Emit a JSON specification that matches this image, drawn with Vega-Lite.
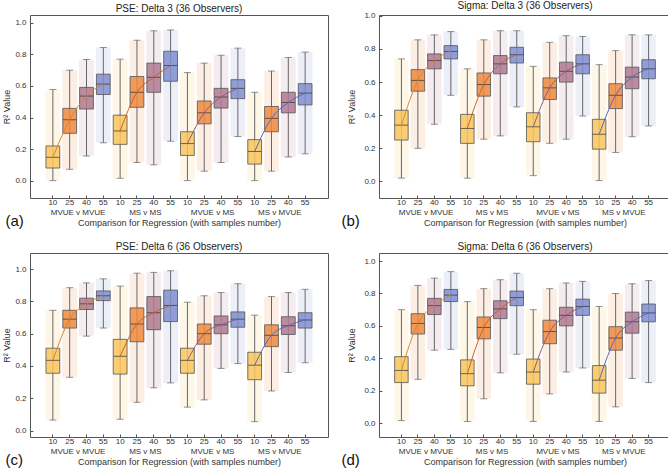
{
  "$schema": "https://vega.github.io/schema/vega-lite/v6.json",
  "padding": {"left": 2, "top": 0, "right": 0, "bottom": 0},
  "datasets": {
    "boxes": [
      {"panel":"a","group":"MVUE v MVUE","n":"10","slot":"MVUE v MVUE|10","lo":0.0,"q1":0.08,"median":0.148,"q3":0.22,"hi":0.578},
      {"panel":"a","group":"MVUE v MVUE","n":"25","slot":"MVUE v MVUE|25","lo":0.072,"q1":0.30,"median":0.386,"q3":0.458,"hi":0.70},
      {"panel":"a","group":"MVUE v MVUE","n":"40","slot":"MVUE v MVUE|40","lo":0.156,"q1":0.454,"median":0.536,"q3":0.591,"hi":0.768},
      {"panel":"a","group":"MVUE v MVUE","n":"55","slot":"MVUE v MVUE|55","lo":0.24,"q1":0.546,"median":0.612,"q3":0.675,"hi":0.844},
      {"panel":"a","group":"MS v MS","n":"10","slot":"MS v MS|10","lo":0.015,"q1":0.23,"median":0.315,"q3":0.415,"hi":0.77},
      {"panel":"a","group":"MS v MS","n":"25","slot":"MS v MS|25","lo":0.115,"q1":0.465,"median":0.56,"q3":0.66,"hi":0.89},
      {"panel":"a","group":"MS v MS","n":"40","slot":"MS v MS|40","lo":0.10,"q1":0.56,"median":0.655,"q3":0.745,"hi":0.95},
      {"panel":"a","group":"MS v MS","n":"55","slot":"MS v MS|55","lo":0.25,"q1":0.63,"median":0.73,"q3":0.82,"hi":0.955},
      {"panel":"a","group":"MVUE v MS","n":"10","slot":"MVUE v MS|10","lo":0.0,"q1":0.16,"median":0.235,"q3":0.31,"hi":0.685},
      {"panel":"a","group":"MVUE v MS","n":"25","slot":"MVUE v MS|25","lo":0.06,"q1":0.36,"median":0.43,"q3":0.505,"hi":0.745},
      {"panel":"a","group":"MVUE v MS","n":"40","slot":"MVUE v MS|40","lo":0.115,"q1":0.46,"median":0.53,"q3":0.585,"hi":0.795},
      {"panel":"a","group":"MVUE v MS","n":"55","slot":"MVUE v MS|55","lo":0.28,"q1":0.52,"median":0.585,"q3":0.64,"hi":0.84},
      {"panel":"a","group":"MS v MVUE","n":"10","slot":"MS v MVUE|10","lo":0.0,"q1":0.105,"median":0.185,"q3":0.26,"hi":0.56},
      {"panel":"a","group":"MS v MVUE","n":"25","slot":"MS v MVUE|25","lo":0.06,"q1":0.31,"median":0.395,"q3":0.47,"hi":0.695},
      {"panel":"a","group":"MS v MVUE","n":"40","slot":"MS v MVUE|40","lo":0.15,"q1":0.43,"median":0.495,"q3":0.56,"hi":0.78},
      {"panel":"a","group":"MS v MVUE","n":"55","slot":"MS v MVUE|55","lo":0.17,"q1":0.48,"median":0.555,"q3":0.615,"hi":0.815},

      {"panel":"b","group":"MVUE v MVUE","n":"10","slot":"MVUE v MVUE|10","lo":0.02,"q1":0.25,"median":0.34,"q3":0.43,"hi":0.74},
      {"panel":"b","group":"MVUE v MVUE","n":"25","slot":"MVUE v MVUE|25","lo":0.20,"q1":0.545,"median":0.61,"q3":0.675,"hi":0.855},
      {"panel":"b","group":"MVUE v MVUE","n":"40","slot":"MVUE v MVUE|40","lo":0.345,"q1":0.68,"median":0.73,"q3":0.77,"hi":0.885},
      {"panel":"b","group":"MVUE v MVUE","n":"55","slot":"MVUE v MVUE|55","lo":0.52,"q1":0.74,"median":0.785,"q3":0.82,"hi":0.905},
      {"panel":"b","group":"MS v MS","n":"10","slot":"MS v MS|10","lo":0.02,"q1":0.23,"median":0.32,"q3":0.405,"hi":0.68},
      {"panel":"b","group":"MS v MS","n":"25","slot":"MS v MS|25","lo":0.255,"q1":0.515,"median":0.585,"q3":0.655,"hi":0.855},
      {"panel":"b","group":"MS v MS","n":"40","slot":"MS v MS|40","lo":0.275,"q1":0.65,"median":0.71,"q3":0.76,"hi":0.91},
      {"panel":"b","group":"MS v MS","n":"55","slot":"MS v MS|55","lo":0.45,"q1":0.715,"median":0.765,"q3":0.81,"hi":0.91},
      {"panel":"b","group":"MVUE v MS","n":"10","slot":"MVUE v MS|10","lo":0.035,"q1":0.24,"median":0.33,"q3":0.415,"hi":0.695},
      {"panel":"b","group":"MVUE v MS","n":"25","slot":"MVUE v MS|25","lo":0.23,"q1":0.495,"median":0.565,"q3":0.625,"hi":0.84},
      {"panel":"b","group":"MVUE v MS","n":"40","slot":"MVUE v MS|40","lo":0.255,"q1":0.60,"median":0.665,"q3":0.72,"hi":0.88},
      {"panel":"b","group":"MVUE v MS","n":"55","slot":"MVUE v MS|55","lo":0.395,"q1":0.65,"median":0.71,"q3":0.765,"hi":0.875},
      {"panel":"b","group":"MS v MVUE","n":"10","slot":"MS v MVUE|10","lo":0.005,"q1":0.195,"median":0.285,"q3":0.375,"hi":0.705},
      {"panel":"b","group":"MS v MVUE","n":"25","slot":"MS v MVUE|25","lo":0.175,"q1":0.44,"median":0.52,"q3":0.59,"hi":0.79},
      {"panel":"b","group":"MS v MVUE","n":"40","slot":"MS v MVUE|40","lo":0.27,"q1":0.56,"median":0.63,"q3":0.69,"hi":0.885},
      {"panel":"b","group":"MS v MVUE","n":"55","slot":"MS v MVUE|55","lo":0.335,"q1":0.62,"median":0.68,"q3":0.735,"hi":0.885},

      {"panel":"c","group":"MVUE v MVUE","n":"10","slot":"MVUE v MVUE|10","lo":0.065,"q1":0.355,"median":0.435,"q3":0.51,"hi":0.745},
      {"panel":"c","group":"MVUE v MVUE","n":"25","slot":"MVUE v MVUE|25","lo":0.33,"q1":0.635,"median":0.69,"q3":0.745,"hi":0.885},
      {"panel":"c","group":"MVUE v MVUE","n":"40","slot":"MVUE v MVUE|40","lo":0.585,"q1":0.75,"median":0.785,"q3":0.82,"hi":0.915},
      {"panel":"c","group":"MVUE v MVUE","n":"55","slot":"MVUE v MVUE|55","lo":0.635,"q1":0.805,"median":0.835,"q3":0.865,"hi":0.94},
      {"panel":"c","group":"MS v MS","n":"10","slot":"MS v MS|10","lo":0.07,"q1":0.35,"median":0.46,"q3":0.565,"hi":0.895},
      {"panel":"c","group":"MS v MS","n":"25","slot":"MS v MS|25","lo":0.175,"q1":0.55,"median":0.66,"q3":0.76,"hi":0.975},
      {"panel":"c","group":"MS v MS","n":"40","slot":"MS v MS|40","lo":0.265,"q1":0.625,"median":0.73,"q3":0.83,"hi":0.98},
      {"panel":"c","group":"MS v MS","n":"55","slot":"MS v MS|55","lo":0.295,"q1":0.675,"median":0.775,"q3":0.87,"hi":0.99},
      {"panel":"c","group":"MVUE v MS","n":"10","slot":"MVUE v MS|10","lo":0.145,"q1":0.355,"median":0.435,"q3":0.51,"hi":0.795},
      {"panel":"c","group":"MVUE v MS","n":"25","slot":"MVUE v MS|25","lo":0.19,"q1":0.535,"median":0.60,"q3":0.66,"hi":0.835},
      {"panel":"c","group":"MVUE v MS","n":"40","slot":"MVUE v MS|40","lo":0.385,"q1":0.60,"median":0.655,"q3":0.71,"hi":0.855},
      {"panel":"c","group":"MVUE v MS","n":"55","slot":"MVUE v MS|55","lo":0.415,"q1":0.64,"median":0.69,"q3":0.735,"hi":0.91},
      {"panel":"c","group":"MS v MVUE","n":"10","slot":"MS v MVUE|10","lo":0.055,"q1":0.315,"median":0.405,"q3":0.485,"hi":0.715},
      {"panel":"c","group":"MS v MVUE","n":"25","slot":"MS v MVUE|25","lo":0.245,"q1":0.52,"median":0.59,"q3":0.655,"hi":0.83},
      {"panel":"c","group":"MS v MVUE","n":"40","slot":"MS v MVUE|40","lo":0.36,"q1":0.595,"median":0.65,"q3":0.705,"hi":0.855},
      {"panel":"c","group":"MS v MVUE","n":"55","slot":"MS v MVUE|55","lo":0.42,"q1":0.635,"median":0.685,"q3":0.73,"hi":0.875},

      {"panel":"d","group":"MVUE v MVUE","n":"10","slot":"MVUE v MVUE|10","lo":0.015,"q1":0.25,"median":0.325,"q3":0.41,"hi":0.70},
      {"panel":"d","group":"MVUE v MVUE","n":"25","slot":"MVUE v MVUE|25","lo":0.27,"q1":0.55,"median":0.615,"q3":0.675,"hi":0.85},
      {"panel":"d","group":"MVUE v MVUE","n":"40","slot":"MVUE v MVUE|40","lo":0.45,"q1":0.67,"median":0.725,"q3":0.77,"hi":0.895},
      {"panel":"d","group":"MVUE v MVUE","n":"55","slot":"MVUE v MVUE|55","lo":0.455,"q1":0.75,"median":0.79,"q3":0.825,"hi":0.935},
      {"panel":"d","group":"MS v MS","n":"10","slot":"MS v MS|10","lo":0.01,"q1":0.23,"median":0.305,"q3":0.39,"hi":0.75},
      {"panel":"d","group":"MS v MS","n":"25","slot":"MS v MS|25","lo":0.15,"q1":0.52,"median":0.59,"q3":0.655,"hi":0.83},
      {"panel":"d","group":"MS v MS","n":"40","slot":"MS v MS|40","lo":0.31,"q1":0.645,"median":0.705,"q3":0.755,"hi":0.885},
      {"panel":"d","group":"MS v MS","n":"55","slot":"MS v MS|55","lo":0.425,"q1":0.725,"median":0.775,"q3":0.815,"hi":0.925},
      {"panel":"d","group":"MVUE v MS","n":"10","slot":"MVUE v MS|10","lo":0.01,"q1":0.24,"median":0.315,"q3":0.395,"hi":0.70},
      {"panel":"d","group":"MVUE v MS","n":"25","slot":"MVUE v MS|25","lo":0.18,"q1":0.49,"median":0.565,"q3":0.635,"hi":0.83},
      {"panel":"d","group":"MVUE v MS","n":"40","slot":"MVUE v MS|40","lo":0.315,"q1":0.60,"median":0.665,"q3":0.715,"hi":0.865},
      {"panel":"d","group":"MVUE v MS","n":"55","slot":"MVUE v MS|55","lo":0.34,"q1":0.665,"median":0.72,"q3":0.765,"hi":0.875},
      {"panel":"d","group":"MS v MVUE","n":"10","slot":"MS v MVUE|10","lo":0.01,"q1":0.185,"median":0.265,"q3":0.355,"hi":0.72},
      {"panel":"d","group":"MS v MVUE","n":"25","slot":"MS v MVUE|25","lo":0.10,"q1":0.45,"median":0.525,"q3":0.595,"hi":0.80},
      {"panel":"d","group":"MS v MVUE","n":"40","slot":"MS v MVUE|40","lo":0.275,"q1":0.555,"median":0.625,"q3":0.685,"hi":0.86},
      {"panel":"d","group":"MS v MVUE","n":"55","slot":"MS v MVUE|55","lo":0.25,"q1":0.625,"median":0.68,"q3":0.735,"hi":0.88}
    ]
  },
  "config": {
    "font": "Liberation Sans",
    "view": {"stroke": "#555", "strokeWidth": 1},
    "axis": {"grid": false, "domain": false, "labelFontSize": 8, "titleFontSize": 9, "titleFontWeight": "normal", "labelColor": "#333", "titleColor": "#333", "tickColor": "#555", "labelOverlap": false, "labelFlush": false},
    "axisY": {"tickSize": -3, "labelPadding": 7, "titlePadding": 3, "format": ".1f", "labelOverlap": false},
    "title": {"fontSize": 10, "fontWeight": "normal", "color": "#222", "offset": 1}
  },
  "columns": 2,
  "align": "each",
  "spacing": {"row": 12, "column": 11},
  "concat": [
    {
      "title": "PSE: Delta 3 (36 Observers)",
      "width": 298, "height": 183,
      "data": {"name": "boxes"},
      "transform": [{"filter": "datum.panel == 'a'"}],
      "resolve": {"axis": {"x": "independent"}},
      "layer": [
        {"mark": {"type": "bar", "opacity": 0.14, "width": {"band": 0.88}},
         "encoding": {
           "x": {"field": "slot", "type": "nominal", "sort": null, "scale": {"paddingInner": 0, "paddingOuter": 0.86},
                 "axis": {"orient": "bottom", "labels": false, "ticks": false, "title": "(a)", "titleX": -25, "titleY": 22, "titleAlign": "left", "titleBaseline": "middle", "titleFontSize": 15, "titleColor": "#111"}},
           "y": {"field": "lo", "type": "quantitative", "scale": {"domain": [-0.11, 1.05], "nice": false, "zero": false}, "title": "R² Value", "axis": {"values": [0, 0.2, 0.4, 0.6, 0.8, 1.0], "tickCount": 6}},
           "y2": {"field": "hi"},
           "fill": {"field": "n", "type": "nominal", "scale": {"domain": ["10","25","40","55"], "range": ["#F9C55E","#EE8A40","#B07A90","#7F8ED0"]}, "legend": null}
         }},
        {"mark": {"type": "rule", "color": "#666", "strokeWidth": 1},
         "encoding": {
           "x": {"field": "slot", "type": "nominal", "sort": null, "axis": {"orient": "bottom", "labelExpr": "split(datum.value, '|')[1]", "labelAngle": 0, "tickSize": -3, "labelPadding": 3, "title": null}},
           "y": {"field": "lo", "type": "quantitative", "title": "R² Value", "axis": {"values": [0, 0.2, 0.4, 0.6, 0.8, 1.0], "tickCount": 6}},
           "y2": {"field": "hi"}
         }},
        {"mark": {"type": "tick", "color": "#666", "size": 7, "thickness": 1},
         "encoding": {"x": {"field": "slot", "type": "nominal", "sort": null, "axis": null}, "y": {"field": "lo", "type": "quantitative", "title": "R² Value", "axis": {"values": [0, 0.2, 0.4, 0.6, 0.8, 1.0], "tickCount": 6}}}},
        {"mark": {"type": "tick", "color": "#666", "size": 7, "thickness": 1},
         "encoding": {"x": {"field": "slot", "type": "nominal", "sort": null, "axis": null}, "y": {"field": "hi", "type": "quantitative", "title": "R² Value", "axis": {"values": [0, 0.2, 0.4, 0.6, 0.8, 1.0], "tickCount": 6}}}},
        {"mark": {"type": "bar", "width": {"band": 0.82}, "fillOpacity": 0.85, "stroke": "#555", "strokeWidth": 1, "strokeOpacity": 0.8},
         "encoding": {
           "x": {"field": "slot", "type": "nominal", "sort": null, "axis": null},
           "y": {"field": "q1", "type": "quantitative", "title": "R² Value", "axis": {"values": [0, 0.2, 0.4, 0.6, 0.8, 1.0], "tickCount": 6}},
           "y2": {"field": "q3"},
           "fill": {"field": "n", "type": "nominal", "legend": null}
         }},
        {"mark": {"type": "tick", "color": "#333", "size": 13.5, "thickness": 1},
         "encoding": {"x": {"field": "slot", "type": "nominal", "sort": null, "axis": null}, "y": {"field": "median", "type": "quantitative", "title": "R² Value", "axis": {"values": [0, 0.2, 0.4, 0.6, 0.8, 1.0], "tickCount": 6}}}},
        {"mark": {"type": "line", "strokeWidth": 1, "interpolate": "monotone"},
         "encoding": {
           "x": {"field": "slot", "type": "nominal", "sort": null, "axis": {"orient": "bottom", "labelExpr": "split(datum.value, '|')[1] == '25' ? split(datum.value, '|')[0] : ''", "labelOffset": 8.4, "labelAngle": 0, "ticks": false, "labelPadding": 10, "title": "Comparison for Regression (with samples number)", "titlePadding": 2}},
           "y": {"field": "median", "type": "quantitative", "title": "R² Value", "axis": {"values": [0, 0.2, 0.4, 0.6, 0.8, 1.0], "tickCount": 6}},
           "stroke": {"field": "group", "type": "nominal", "scale": {"domain": ["MVUE v MVUE","MS v MS","MVUE v MS","MS v MVUE"], "range": ["#D08A30","#C4622A","#8A5A8C","#5468C4"]}, "legend": null}
         }}
      ]
    },
    {
      "title": "Sigma: Delta 3 (36 Observers)",
      "width": 292, "height": 183,
      "data": {"name": "boxes"},
      "transform": [{"filter": "datum.panel == 'b'"}],
      "resolve": {"axis": {"x": "independent"}},
      "layer": [
        {"mark": {"type": "bar", "opacity": 0.14, "width": {"band": 0.88}},
         "encoding": {
           "x": {"field": "slot", "type": "nominal", "sort": null, "scale": {"paddingInner": 0, "paddingOuter": 0.86},
                 "axis": {"orient": "bottom", "labels": false, "ticks": false, "title": "(b)", "titleX": -38, "titleY": 22, "titleAlign": "left", "titleBaseline": "middle", "titleFontSize": 15, "titleColor": "#111"}},
           "y": {"field": "lo", "type": "quantitative", "scale": {"domain": [-0.10, 1.005], "nice": false, "zero": false}, "title": "R² Value", "axis": {"values": [0, 0.2, 0.4, 0.6, 0.8, 1.0], "tickCount": 6, "titlePadding": 7}},
           "y2": {"field": "hi"},
           "fill": {"field": "n", "type": "nominal", "scale": {"domain": ["10","25","40","55"], "range": ["#F9C55E","#EE8A40","#B07A90","#7F8ED0"]}, "legend": null}
         }},
        {"mark": {"type": "rule", "color": "#666", "strokeWidth": 1},
         "encoding": {
           "x": {"field": "slot", "type": "nominal", "sort": null, "axis": {"orient": "bottom", "labelExpr": "split(datum.value, '|')[1]", "labelAngle": 0, "tickSize": -3, "labelPadding": 3, "title": null}},
           "y": {"field": "lo", "type": "quantitative", "title": "R² Value", "axis": {"values": [0, 0.2, 0.4, 0.6, 0.8, 1.0], "tickCount": 6, "titlePadding": 7}},
           "y2": {"field": "hi"}
         }},
        {"mark": {"type": "tick", "color": "#666", "size": 7, "thickness": 1},
         "encoding": {"x": {"field": "slot", "type": "nominal", "sort": null, "axis": null}, "y": {"field": "lo", "type": "quantitative", "title": "R² Value", "axis": {"values": [0, 0.2, 0.4, 0.6, 0.8, 1.0], "tickCount": 6, "titlePadding": 7}}}},
        {"mark": {"type": "tick", "color": "#666", "size": 7, "thickness": 1},
         "encoding": {"x": {"field": "slot", "type": "nominal", "sort": null, "axis": null}, "y": {"field": "hi", "type": "quantitative", "title": "R² Value", "axis": {"values": [0, 0.2, 0.4, 0.6, 0.8, 1.0], "tickCount": 6, "titlePadding": 7}}}},
        {"mark": {"type": "bar", "width": {"band": 0.82}, "fillOpacity": 0.85, "stroke": "#555", "strokeWidth": 1, "strokeOpacity": 0.8},
         "encoding": {
           "x": {"field": "slot", "type": "nominal", "sort": null, "axis": null},
           "y": {"field": "q1", "type": "quantitative", "title": "R² Value", "axis": {"values": [0, 0.2, 0.4, 0.6, 0.8, 1.0], "tickCount": 6, "titlePadding": 7}},
           "y2": {"field": "q3"},
           "fill": {"field": "n", "type": "nominal", "legend": null}
         }},
        {"mark": {"type": "tick", "color": "#333", "size": 13.5, "thickness": 1},
         "encoding": {"x": {"field": "slot", "type": "nominal", "sort": null, "axis": null}, "y": {"field": "median", "type": "quantitative", "title": "R² Value", "axis": {"values": [0, 0.2, 0.4, 0.6, 0.8, 1.0], "tickCount": 6, "titlePadding": 7}}}},
        {"mark": {"type": "line", "strokeWidth": 1, "interpolate": "monotone"},
         "encoding": {
           "x": {"field": "slot", "type": "nominal", "sort": null, "axis": {"orient": "bottom", "labelExpr": "split(datum.value, '|')[1] == '25' ? split(datum.value, '|')[0] : ''", "labelOffset": 8.2, "labelAngle": 0, "ticks": false, "labelPadding": 10, "title": "Comparison for Regression (with samples number)", "titlePadding": 2}},
           "y": {"field": "median", "type": "quantitative", "title": "R² Value", "axis": {"values": [0, 0.2, 0.4, 0.6, 0.8, 1.0], "tickCount": 6, "titlePadding": 7}},
           "stroke": {"field": "group", "type": "nominal", "scale": {"domain": ["MVUE v MVUE","MS v MS","MVUE v MS","MS v MVUE"], "range": ["#D08A30","#C4622A","#8A5A8C","#5468C4"]}, "legend": null}
         }}
      ]
    },
    {
      "title": "PSE: Delta 6 (36 Observers)",
      "width": 298, "height": 184,
      "data": {"name": "boxes"},
      "transform": [{"filter": "datum.panel == 'c'"}],
      "resolve": {"axis": {"x": "independent"}},
      "layer": [
        {"mark": {"type": "bar", "opacity": 0.14, "width": {"band": 0.88}},
         "encoding": {
           "x": {"field": "slot", "type": "nominal", "sort": null, "scale": {"paddingInner": 0, "paddingOuter": 0.86},
                 "axis": {"orient": "bottom", "labels": false, "ticks": false, "title": "(c)", "titleX": -25, "titleY": 22, "titleAlign": "left", "titleBaseline": "middle", "titleFontSize": 15, "titleColor": "#111"}},
           "y": {"field": "lo", "type": "quantitative", "scale": {"domain": [-0.04, 1.10], "nice": false, "zero": false}, "title": "R² Value", "axis": {"values": [0, 0.2, 0.4, 0.6, 0.8, 1.0], "tickCount": 6}},
           "y2": {"field": "hi"},
           "fill": {"field": "n", "type": "nominal", "scale": {"domain": ["10","25","40","55"], "range": ["#F9C55E","#EE8A40","#B07A90","#7F8ED0"]}, "legend": null}
         }},
        {"mark": {"type": "rule", "color": "#666", "strokeWidth": 1},
         "encoding": {
           "x": {"field": "slot", "type": "nominal", "sort": null, "axis": {"orient": "bottom", "labelExpr": "split(datum.value, '|')[1]", "labelAngle": 0, "tickSize": -3, "labelPadding": 3, "title": null}},
           "y": {"field": "lo", "type": "quantitative", "title": "R² Value", "axis": {"values": [0, 0.2, 0.4, 0.6, 0.8, 1.0], "tickCount": 6}},
           "y2": {"field": "hi"}
         }},
        {"mark": {"type": "tick", "color": "#666", "size": 7, "thickness": 1},
         "encoding": {"x": {"field": "slot", "type": "nominal", "sort": null, "axis": null}, "y": {"field": "lo", "type": "quantitative", "title": "R² Value", "axis": {"values": [0, 0.2, 0.4, 0.6, 0.8, 1.0], "tickCount": 6}}}},
        {"mark": {"type": "tick", "color": "#666", "size": 7, "thickness": 1},
         "encoding": {"x": {"field": "slot", "type": "nominal", "sort": null, "axis": null}, "y": {"field": "hi", "type": "quantitative", "title": "R² Value", "axis": {"values": [0, 0.2, 0.4, 0.6, 0.8, 1.0], "tickCount": 6}}}},
        {"mark": {"type": "bar", "width": {"band": 0.82}, "fillOpacity": 0.85, "stroke": "#555", "strokeWidth": 1, "strokeOpacity": 0.8},
         "encoding": {
           "x": {"field": "slot", "type": "nominal", "sort": null, "axis": null},
           "y": {"field": "q1", "type": "quantitative", "title": "R² Value", "axis": {"values": [0, 0.2, 0.4, 0.6, 0.8, 1.0], "tickCount": 6}},
           "y2": {"field": "q3"},
           "fill": {"field": "n", "type": "nominal", "legend": null}
         }},
        {"mark": {"type": "tick", "color": "#333", "size": 13.5, "thickness": 1},
         "encoding": {"x": {"field": "slot", "type": "nominal", "sort": null, "axis": null}, "y": {"field": "median", "type": "quantitative", "title": "R² Value", "axis": {"values": [0, 0.2, 0.4, 0.6, 0.8, 1.0], "tickCount": 6}}}},
        {"mark": {"type": "line", "strokeWidth": 1, "interpolate": "monotone"},
         "encoding": {
           "x": {"field": "slot", "type": "nominal", "sort": null, "axis": {"orient": "bottom", "labelExpr": "split(datum.value, '|')[1] == '25' ? split(datum.value, '|')[0] : ''", "labelOffset": 8.4, "labelAngle": 0, "ticks": false, "labelPadding": 10, "title": "Comparison for Regression (with samples number)", "titlePadding": 2}},
           "y": {"field": "median", "type": "quantitative", "title": "R² Value", "axis": {"values": [0, 0.2, 0.4, 0.6, 0.8, 1.0], "tickCount": 6}},
           "stroke": {"field": "group", "type": "nominal", "scale": {"domain": ["MVUE v MVUE","MS v MS","MVUE v MS","MS v MVUE"], "range": ["#D08A30","#C4622A","#8A5A8C","#5468C4"]}, "legend": null}
         }}
      ]
    },
    {
      "title": "Sigma: Delta 6 (36 Observers)",
      "width": 292, "height": 184,
      "data": {"name": "boxes"},
      "transform": [{"filter": "datum.panel == 'd'"}],
      "resolve": {"axis": {"x": "independent"}},
      "layer": [
        {"mark": {"type": "bar", "opacity": 0.14, "width": {"band": 0.88}},
         "encoding": {
           "x": {"field": "slot", "type": "nominal", "sort": null, "scale": {"paddingInner": 0, "paddingOuter": 0.86},
                 "axis": {"orient": "bottom", "labels": false, "ticks": false, "title": "(d)", "titleX": -38, "titleY": 22, "titleAlign": "left", "titleBaseline": "middle", "titleFontSize": 15, "titleColor": "#111"}},
           "y": {"field": "lo", "type": "quantitative", "scale": {"domain": [-0.086, 1.05], "nice": false, "zero": false}, "title": "R² Value", "axis": {"values": [0, 0.2, 0.4, 0.6, 0.8, 1.0], "tickCount": 6, "titlePadding": 7}},
           "y2": {"field": "hi"},
           "fill": {"field": "n", "type": "nominal", "scale": {"domain": ["10","25","40","55"], "range": ["#F9C55E","#EE8A40","#B07A90","#7F8ED0"]}, "legend": null}
         }},
        {"mark": {"type": "rule", "color": "#666", "strokeWidth": 1},
         "encoding": {
           "x": {"field": "slot", "type": "nominal", "sort": null, "axis": {"orient": "bottom", "labelExpr": "split(datum.value, '|')[1]", "labelAngle": 0, "tickSize": -3, "labelPadding": 3, "title": null}},
           "y": {"field": "lo", "type": "quantitative", "title": "R² Value", "axis": {"values": [0, 0.2, 0.4, 0.6, 0.8, 1.0], "tickCount": 6, "titlePadding": 7}},
           "y2": {"field": "hi"}
         }},
        {"mark": {"type": "tick", "color": "#666", "size": 7, "thickness": 1},
         "encoding": {"x": {"field": "slot", "type": "nominal", "sort": null, "axis": null}, "y": {"field": "lo", "type": "quantitative", "title": "R² Value", "axis": {"values": [0, 0.2, 0.4, 0.6, 0.8, 1.0], "tickCount": 6, "titlePadding": 7}}}},
        {"mark": {"type": "tick", "color": "#666", "size": 7, "thickness": 1},
         "encoding": {"x": {"field": "slot", "type": "nominal", "sort": null, "axis": null}, "y": {"field": "hi", "type": "quantitative", "title": "R² Value", "axis": {"values": [0, 0.2, 0.4, 0.6, 0.8, 1.0], "tickCount": 6, "titlePadding": 7}}}},
        {"mark": {"type": "bar", "width": {"band": 0.82}, "fillOpacity": 0.85, "stroke": "#555", "strokeWidth": 1, "strokeOpacity": 0.8},
         "encoding": {
           "x": {"field": "slot", "type": "nominal", "sort": null, "axis": null},
           "y": {"field": "q1", "type": "quantitative", "title": "R² Value", "axis": {"values": [0, 0.2, 0.4, 0.6, 0.8, 1.0], "tickCount": 6, "titlePadding": 7}},
           "y2": {"field": "q3"},
           "fill": {"field": "n", "type": "nominal", "legend": null}
         }},
        {"mark": {"type": "tick", "color": "#333", "size": 13.5, "thickness": 1},
         "encoding": {"x": {"field": "slot", "type": "nominal", "sort": null, "axis": null}, "y": {"field": "median", "type": "quantitative", "title": "R² Value", "axis": {"values": [0, 0.2, 0.4, 0.6, 0.8, 1.0], "tickCount": 6, "titlePadding": 7}}}},
        {"mark": {"type": "line", "strokeWidth": 1, "interpolate": "monotone"},
         "encoding": {
           "x": {"field": "slot", "type": "nominal", "sort": null, "axis": {"orient": "bottom", "labelExpr": "split(datum.value, '|')[1] == '25' ? split(datum.value, '|')[0] : ''", "labelOffset": 8.2, "labelAngle": 0, "ticks": false, "labelPadding": 10, "title": "Comparison for Regression (with samples number)", "titlePadding": 2}},
           "y": {"field": "median", "type": "quantitative", "title": "R² Value", "axis": {"values": [0, 0.2, 0.4, 0.6, 0.8, 1.0], "tickCount": 6, "titlePadding": 7}},
           "stroke": {"field": "group", "type": "nominal", "scale": {"domain": ["MVUE v MVUE","MS v MS","MVUE v MS","MS v MVUE"], "range": ["#D08A30","#C4622A","#8A5A8C","#5468C4"]}, "legend": null}
         }}
      ]
    }
  ]
}
